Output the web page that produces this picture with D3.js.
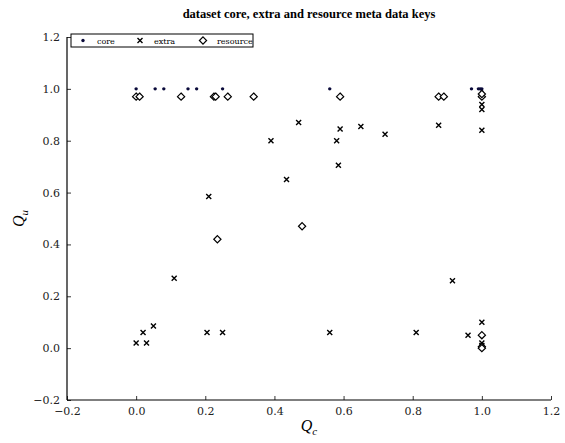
<!DOCTYPE html>
<html>
<head>
<meta charset="utf-8">
<script src="https://cdn.jsdelivr.net/npm/d3@7"></script>
<style>
  body { margin: 0; background: #fff; }
  svg text { font-family: "DejaVu Serif", "Liberation Serif", serif; }
</style>
</head>
<body>
<div id="chart"></div>
<script>
// core keys (Qc, Qu)
var core_x = [0.0, 0.055, 0.08, 0.15, 0.175, 0.25, 0.56, 0.97, 0.99, 0.995, 1.0, 1.0];
var core_y = [1.0, 1.0, 1.0, 1.0, 1.0, 1.0, 1.0, 1.0, 1.0, 1.0, 1.0, 0.99];

// extra keys
var extra_x = [0.0, 0.02, 0.03, 0.05, 0.11, 0.205, 0.21, 0.25, 0.39, 0.435, 0.47, 0.56, 0.58, 0.585, 0.59,
               0.65, 0.72, 0.81, 0.875, 0.915, 0.96, 1.0, 1.0, 1.0, 1.0, 1.0, 1.0];
var extra_y = [0.02, 0.06, 0.02, 0.085, 0.27, 0.06, 0.585, 0.06, 0.80, 0.65, 0.87, 0.06, 0.80, 0.705, 0.845,
               0.855, 0.825, 0.06, 0.86, 0.26, 0.05, 0.94, 0.92, 0.84, 0.10, 0.02, 0.01];

// resource keys
var res_x = [0.0, 0.01, 0.13, 0.225, 0.23, 0.265, 0.34, 0.59, 0.875, 0.89, 1.0, 1.0, 0.235, 0.48, 1.0, 1.0, 1.0];
var res_y = [0.97, 0.97, 0.97, 0.97, 0.97, 0.97, 0.97, 0.97, 0.97, 0.97, 0.97, 0.98, 0.42, 0.47, 0.05, 0.005, 0.0];

var ticks = [-0.2, 0.0, 0.2, 0.4, 0.6, 0.8, 1.0, 1.2];
var legend_labels = ["core", "extra", "resource"];

var width = 565, height = 443;
var padding = { top: 37, bottom: 43, left: 67, right: 14 };

var svg = d3.select("#chart").append("svg")
  .attr("width", width)
  .attr("height", height);

var scaleX = d3.scaleLinear().domain([-0.2, 1.2]).range([padding.left, width - padding.right]);
var scaleY = d3.scaleLinear().domain([-0.2, 1.2]).range([height - padding.bottom, padding.top]);

var fmt = function(d){ return d.toFixed(1).replace("-", "\u2212"); };

// axes (left + bottom only, ticks inward)
var xAxis = d3.axisBottom(scaleX).tickValues(ticks).tickSize(-4).tickPadding(7).tickFormat(fmt);
var yAxis = d3.axisLeft(scaleY).tickValues(ticks).tickSize(-4).tickPadding(7).tickFormat(fmt);

var gx = svg.append("g")
  .attr("transform", "translate(0," + (height - padding.bottom) + ")")
  .call(xAxis);
var gy = svg.append("g")
  .attr("transform", "translate(" + padding.left + ",0)")
  .call(yAxis);

[gx, gy].forEach(function(g){
  g.select(".domain").attr("stroke", "#000").attr("stroke-width", 1.2);
  g.selectAll(".tick line").attr("stroke", "#000").attr("stroke-width", 0.8);
  g.selectAll(".tick text").attr("fill", "#222").style("font-size", "11px")
    .style("font-family", "'DejaVu Serif', serif");
});
gx.select(".domain").attr("d", "M" + scaleX(-0.2) + ",0H" + scaleX(1.2));
gy.select(".domain").attr("d", "M0," + scaleY(-0.2) + "V" + scaleY(1.2));

// title
svg.append("text")
  .attr("x", (scaleX(-0.2) + scaleX(1.2)) / 2)
  .attr("y", 18)
  .style("text-anchor", "middle")
  .style("font-weight", "bold")
  .style("font-family", "'Liberation Serif', serif")
  .style("font-size", "12.5px")
  .text("dataset core, extra and resource meta data keys");

// axis labels
var xl = svg.append("text")
  .attr("x", (scaleX(-0.2) + scaleX(1.2)) / 2)
  .attr("y", height - 12)
  .style("text-anchor", "middle")
  .style("font-size", "16px")
  .style("font-style", "italic")
  .style("font-family", "'Liberation Serif', serif");
xl.append("tspan").text("Q");
xl.append("tspan").attr("dy", 4).style("font-size", "11px").text("c");

var yl = svg.append("text")
  .attr("transform", "translate(24," + ((scaleY(-0.2) + scaleY(1.2)) / 2) + ") rotate(-90)")
  .style("text-anchor", "middle")
  .style("font-size", "16px")
  .style("font-style", "italic")
  .style("font-family", "'Liberation Serif', serif");
yl.append("tspan").text("Q");
yl.append("tspan").attr("dy", 4).style("font-size", "11px").text("u");

// markers
var drawDot = function(g, x, y){
  g.append("circle").attr("cx", x).attr("cy", y).attr("r", 1.7).attr("fill", "#0a0a3a");
};
var drawCross = function(g, x, y){
  var s = 2.5;
  g.append("path")
    .attr("d", "M" + (x - s) + "," + (y - s) + "L" + (x + s) + "," + (y + s) +
               "M" + (x - s) + "," + (y + s) + "L" + (x + s) + "," + (y - s))
    .attr("stroke", "#000").attr("stroke-width", 1.4).attr("fill", "none");
};
var drawDiamond = function(g, x, y){
  var s = 3.6;
  g.append("path")
    .attr("d", "M" + x + "," + (y - s) + "L" + (x + s) + "," + y + "L" + x + "," + (y + s) + "L" + (x - s) + "," + y + "Z")
    .attr("stroke", "#000").attr("stroke-width", 1.2).attr("fill", "#fff");
};

var pts = svg.append("g");
var core = d3.zip(core_x, core_y);
var extra = d3.zip(extra_x, extra_y);
var resource = d3.zip(res_x, res_y);

core.forEach(function(d){ drawDot(pts, scaleX(d[0]), scaleY(d[1])); });
extra.forEach(function(d){ drawCross(pts, scaleX(d[0]), scaleY(d[1])); });
resource.forEach(function(d){ drawDiamond(pts, scaleX(d[0]), scaleY(d[1])); });

// legend
var lg = svg.append("g");
lg.append("rect")
  .attr("x", scaleX(-0.2) + 4)
  .attr("y", padding.top - 3)
  .attr("width", 182)
  .attr("height", 13)
  .attr("fill", "#fff")
  .attr("stroke", "#000")
  .attr("stroke-width", 1);

var legend_pos = [83, 140, 203];
var drawers = [drawDot, drawCross, drawDiamond];
legend_labels.forEach(function(l, i){
  var cy = padding.top + 3.5;
  drawers[i](lg, legend_pos[i], cy);
  lg.append("text")
    .attr("x", legend_pos[i] + 14)
    .attr("y", cy + 3)
    .style("font-size", "8px")
    .style("font-family", "'DejaVu Serif', serif")
    .text(l);
});
</script>
</body>
</html>
